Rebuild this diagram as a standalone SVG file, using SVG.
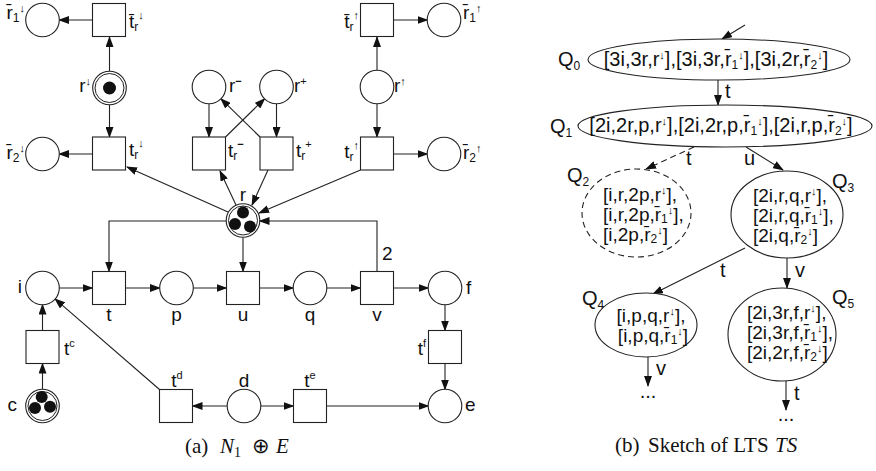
<svg xmlns="http://www.w3.org/2000/svg" width="876" height="471" viewBox="0 0 876 471">
<defs>
<marker id="ah" markerUnits="userSpaceOnUse" markerWidth="12" markerHeight="8" refX="10" refY="4" orient="auto"><path d="M0,0 L11,4 L0,8 z" fill="#111"/></marker>
</defs>
<style>
.pl,.tr{fill:#fff;stroke:#222;stroke-width:1.1}
.in{fill:none;stroke:#222;stroke-width:1}
.tk{fill:#111}
.arc{fill:none;stroke:#222;stroke-width:1.1;marker-end:url(#ah)}
.dash{stroke-dasharray:6 4}
text{font-family:"Liberation Sans",Arial,sans-serif;font-size:19px;fill:#111}
.s{font-size:20px}
.ml{font-size:19px}
.sb{font-size:12px}
.sp{font-size:11px}
.e{text-anchor:end}
.m{text-anchor:middle}
.cap{font-family:"Liberation Serif","Times New Roman",serif;font-size:21px}
.it{font-style:italic}
</style>
<rect width="876" height="471" fill="#fff"/>

<!-- connectors -->
<g id="connectors">
<path class="arc" d="M109.5,71 V37"/>
<path class="arc" d="M92.5,20 H59"/>
<path class="arc" d="M109.5,105 V137"/>
<path class="arc" d="M92.5,154 H59"/>
<path class="arc" d="M228,212 L127,167"/>
<path class="arc" d="M236,205 L220,171"/>
<path class="arc" d="M268,170 L252,205"/>
<path class="arc" d="M360.5,170 L259,213"/>
<path class="arc" d="M209,104 V137"/>
<path class="arc" d="M276.5,104 V137"/>
<path class="arc" d="M225.5,137 L264.7,98.6"/>
<path class="arc" d="M260,137 L220.8,98.6"/>
<path class="arc" d="M377,70.5 V37"/>
<path class="arc" d="M393.5,20 H427.5"/>
<path class="arc" d="M377,103.5 V137"/>
<path class="arc" d="M393.5,154 H427.5"/>
<path class="arc" d="M226.5,221 H109 V271.5"/>
<path class="arc" d="M243,237.5 V271.5"/>
<path class="arc" d="M377,271.5 V221 H259.5"/>
<path class="arc" d="M59,288 H92.5"/>
<path class="arc" d="M125.5,288 H160"/>
<path class="arc" d="M193,288 H226.5"/>
<path class="arc" d="M259.5,288 H293.5"/>
<path class="arc" d="M326.5,288 H360.5"/>
<path class="arc" d="M393.5,288 H428.5"/>
<path class="arc" d="M445,304.5 V330.5"/>
<path class="arc" d="M445,363.5 V389.5"/>
<path class="arc" d="M42.5,389.5 V363.5"/>
<path class="arc" d="M42.5,330.5 V304.5"/>
<path class="arc" d="M159.5,389.5 L55,298.8"/>
<path class="arc" d="M227.5,406 H192.5"/>
<path class="arc" d="M260.5,406 H293.5"/>
<path class="arc" d="M326.5,406 H428.5"/>
<text x="382" y="260">2</text>
<!-- LTS -->
<path class="arc" d="M745,25 L722,39"/>
<path class="arc" d="M718,80 V105"/>
<path class="arc dash" d="M694,147 L646,169"/>
<path class="arc" d="M746,147 L783,170"/>
<path class="arc" d="M745,248 L653,294"/>
<path class="arc" d="M787,258 V288"/>
<path class="arc" d="M648,357 V386"/>
<path class="arc" d="M786,381 V410"/>
<text class="s" x="725" y="98">t</text>
<text class="s" x="686" y="165">t</text>
<text class="s" x="744" y="165">u</text>
<text class="s" x="720" y="277">t</text>
<text class="s" x="795" y="277">v</text>
<text class="s" x="656" y="375">v</text>
<text class="s" x="794" y="400">t</text>
<text class="s m" x="648" y="398">...</text>
<text class="s m" x="786" y="421">...</text>
</g>

<!-- places -->
<g id="p_r1d_bar"><circle class="pl" cx="42.5" cy="20" r="16.8"/><text class="e" x="25" y="19">r&#x304;<tspan class="sb" dy="3">1</tspan><tspan class="sp" dy="-10">↓</tspan></text></g>
<g id="p_r2d_bar"><circle class="pl" cx="42.5" cy="154" r="16.8"/><text class="e" x="25" y="159">r&#x304;<tspan class="sb" dy="3">2</tspan><tspan class="sp" dy="-10">↓</tspan></text></g>
<g id="p_rdown"><circle class="pl" cx="109.5" cy="88" r="16.8"/><circle class="in" cx="109.5" cy="88" r="14.5"/><circle class="tk" cx="109.5" cy="88" r="6.5"/><text class="e" x="91" y="92">r<tspan class="sp" dy="-7">↓</tspan></text></g>
<g id="p_rminus"><circle class="pl" cx="209" cy="87" r="16.8"/><text x="229" y="92">r<tspan class="sp" dy="-7" font-weight="bold">−</tspan></text></g>
<g id="p_rplus"><circle class="pl" cx="276.5" cy="87" r="16.8"/><text x="294" y="92">r<tspan class="sp" dy="-7">+</tspan></text></g>
<g id="p_rup"><circle class="pl" cx="377" cy="87" r="16.8"/><text x="394" y="92">r<tspan class="sp" dy="-7">↑</tspan></text></g>
<g id="p_r1u_bar"><circle class="pl" cx="444" cy="20" r="16.8"/><text x="463" y="19">r&#x304;<tspan class="sb" dy="3">1</tspan><tspan class="sp" dy="-10">↑</tspan></text></g>
<g id="p_r2u_bar"><circle class="pl" cx="444" cy="154" r="16.8"/><text x="463" y="159">r&#x304;<tspan class="sb" dy="3">2</tspan><tspan class="sp" dy="-10">↑</tspan></text></g>
<g id="p_r"><circle class="pl" cx="243" cy="220.5" r="16.8"/><circle class="in" cx="243" cy="220.5" r="14.5"/><circle class="tk" cx="243" cy="212.5" r="6"/><circle class="tk" cx="235" cy="224" r="6"/><circle class="tk" cx="250" cy="226.5" r="6"/><text class="m" x="243" y="201">r</text></g>
<g id="p_i"><circle class="pl" cx="42.5" cy="288" r="16.8"/><text class="e" x="22" y="293">i</text></g>
<g id="p_p"><circle class="pl" cx="176.5" cy="288" r="16.8"/><text class="m" x="176.5" y="321">p</text></g>
<g id="p_q"><circle class="pl" cx="310" cy="288" r="16.8"/><text class="m" x="310" y="321">q</text></g>
<g id="p_f"><circle class="pl" cx="445" cy="288" r="16.8"/><text x="466" y="294">f</text></g>
<g id="p_c"><circle class="pl" cx="42.5" cy="406" r="16.8"/><circle class="in" cx="42.5" cy="406" r="14.5"/><circle class="tk" cx="41.7" cy="397" r="6"/><circle class="tk" cx="35" cy="408" r="6"/><circle class="tk" cx="50" cy="406.7" r="6"/><text class="e" x="17" y="411">c</text></g>
<g id="p_d"><circle class="pl" cx="244" cy="406" r="16.8"/><text class="m" x="244" y="387">d</text></g>
<g id="p_e"><circle class="pl" cx="445" cy="406" r="16.8"/><text x="465" y="411">e</text></g>

<!-- transitions -->
<g id="t_tr1d_bar"><rect class="tr" x="92.5" y="3.5" width="33" height="33"/><text x="129" y="28">t&#x304;<tspan class="sb" dy="3">r</tspan><tspan class="sp" dy="-12">↓</tspan></text></g>
<g id="t_trd"><rect class="tr" x="92.5" y="137" width="33" height="33"/><text x="129" y="156">t<tspan class="sb" dy="3">r</tspan><tspan class="sp" dy="-12">↓</tspan></text></g>
<g id="t_trminus"><rect class="tr" x="192.5" y="137" width="33" height="33"/><text x="228" y="157">t<tspan class="sb" dy="3">r</tspan><tspan class="sp" dy="-12" font-weight="bold">−</tspan></text></g>
<g id="t_trplus"><rect class="tr" x="260" y="137" width="33" height="33"/><text x="296" y="157">t<tspan class="sb" dy="3">r</tspan><tspan class="sp" dy="-12">+</tspan></text></g>
<g id="t_tr1u_bar"><rect class="tr" x="360.5" y="3.5" width="33" height="33"/><text class="e" x="359" y="28">t&#x304;<tspan class="sb" dy="3">r</tspan><tspan class="sp" dy="-12">↑</tspan></text></g>
<g id="t_trup"><rect class="tr" x="360.5" y="137" width="33" height="33"/><text class="e" x="359" y="158">t<tspan class="sb" dy="3">r</tspan><tspan class="sp" dy="-12">↑</tspan></text></g>
<g id="t_t"><rect class="tr" x="92.5" y="271.5" width="33" height="33"/><text class="m" x="109" y="321">t</text></g>
<g id="t_u"><rect class="tr" x="226.5" y="271.5" width="33" height="33"/><text class="m" x="243" y="321">u</text></g>
<g id="t_v"><rect class="tr" x="360.5" y="271.5" width="33" height="33"/><text class="m" x="377" y="321">v</text></g>
<g id="t_tc"><rect class="tr" x="26" y="330.5" width="33" height="33"/><text x="64" y="355">t<tspan class="sp" dy="-8">c</tspan></text></g>
<g id="t_tf"><rect class="tr" x="428.5" y="330.5" width="33" height="33"/><text class="e" x="426" y="355">t<tspan class="sp" dy="-8">f</tspan></text></g>
<g id="t_td"><rect class="tr" x="159.5" y="389.5" width="33" height="33"/><text class="m" x="177" y="387">t<tspan class="sp" dy="-8">d</tspan></text></g>
<g id="t_te"><rect class="tr" x="293.5" y="389.5" width="33" height="33"/><text class="m" x="310" y="387">t<tspan class="sp" dy="-8">e</tspan></text></g>

<!-- LTS states -->
<g id="Q0"><ellipse class="pl" cx="719" cy="59.5" rx="131" ry="20.5"/>
<text class="s" x="558" y="66">Q<tspan class="sb" dy="4">0</tspan></text>
<text class="s m" x="716" y="66">[3i,3r,r<tspan class="sp" dy="-7">↓</tspan><tspan dy="7">],[3i,3r,r&#x304;</tspan><tspan class="sb" dy="3">1</tspan><tspan class="sp" dy="-10">↓</tspan><tspan dy="7">],[3i,2r,r&#x304;</tspan><tspan class="sb" dy="3">2</tspan><tspan class="sp" dy="-10">↓</tspan><tspan dy="7">]</tspan></text></g>
<g id="Q1"><ellipse class="pl" cx="725" cy="126" rx="147" ry="21"/>
<text class="s" x="550" y="133">Q<tspan class="sb" dy="4">1</tspan></text>
<text class="s m" x="721" y="132">[2i,2r,p,r<tspan class="sp" dy="-7">↓</tspan><tspan dy="7">],[2i,2r,p,r&#x304;</tspan><tspan class="sb" dy="3">1</tspan><tspan class="sp" dy="-10">↓</tspan><tspan dy="7">],[2i,r,p,r&#x304;</tspan><tspan class="sb" dy="3">2</tspan><tspan class="sp" dy="-10">↓</tspan><tspan dy="7">]</tspan></text></g>
<g id="Q2"><ellipse class="pl dash" cx="636.5" cy="213" rx="54.5" ry="44"/>
<text class="s" x="567" y="182">Q<tspan class="sb" dy="4">2</tspan></text>
<text class="ml" x="603" y="201">[i,r,2p,r<tspan class="sp" dy="-7">↓</tspan><tspan dy="7">],</tspan></text>
<text class="ml" x="603" y="221">[i,r,2p,r&#x304;<tspan class="sb" dy="2">1</tspan><tspan class="sp" dy="-9">↓</tspan><tspan dy="7">],</tspan></text>
<text class="ml" x="603" y="241">[i,2p,r&#x304;<tspan class="sb" dy="2">2</tspan><tspan class="sp" dy="-9">↓</tspan><tspan dy="7">]</tspan></text></g>
<g id="Q3"><ellipse class="pl" cx="787" cy="214.5" rx="56" ry="43.5"/>
<text class="s" x="832" y="188">Q<tspan class="sb" dy="4">3</tspan></text>
<text class="ml" x="753" y="202">[2i,r,q,r<tspan class="sp" dy="-7">↓</tspan><tspan dy="7">],</tspan></text>
<text class="ml" x="753" y="222">[2i,r,q,r&#x304;<tspan class="sb" dy="2">1</tspan><tspan class="sp" dy="-9">↓</tspan><tspan dy="7">],</tspan></text>
<text class="ml" x="753" y="242">[2i,q,r&#x304;<tspan class="sb" dy="2">2</tspan><tspan class="sp" dy="-9">↓</tspan><tspan dy="7">]</tspan></text></g>
<g id="Q4"><ellipse class="pl" cx="646" cy="325" rx="51" ry="32"/>
<text class="s" x="582" y="305">Q<tspan class="sb" dy="4">4</tspan></text>
<text class="ml m" x="651" y="322">[i,p,q,r<tspan class="sp" dy="-7">↓</tspan><tspan dy="7">],</tspan></text>
<text class="ml m" x="653" y="342">[i,p,q,r&#x304;<tspan class="sb" dy="2">1</tspan><tspan class="sp" dy="-9">↓</tspan><tspan dy="7">]</tspan></text></g>
<g id="Q5"><ellipse class="pl" cx="782" cy="334.5" rx="54" ry="46.5"/>
<text class="s" x="832" y="304">Q<tspan class="sb" dy="4">5</tspan></text>
<text class="ml" x="747" y="319">[2i,3r,f,r<tspan class="sp" dy="-7">↓</tspan><tspan dy="7">],</tspan></text>
<text class="ml" x="747" y="339">[2i,3r,f,r&#x304;<tspan class="sb" dy="2">1</tspan><tspan class="sp" dy="-9">↓</tspan><tspan dy="7">],</tspan></text>
<text class="ml" x="747" y="359">[2i,2r,f,r&#x304;<tspan class="sb" dy="2">2</tspan><tspan class="sp" dy="-9">↓</tspan><tspan dy="7">]</tspan></text></g>

<!-- captions -->
<text class="cap" x="185" y="453">(a)<tspan class="it" x="220">N</tspan><tspan font-size="14" dy="4">1</tspan><tspan x="252" dy="-4">⊕</tspan><tspan class="it" x="276">E</tspan></text>
<text class="cap" x="615" y="452">(b)<tspan x="648">Sketch of LTS</tspan><tspan class="it" x="775">TS</tspan></text>
</svg>
